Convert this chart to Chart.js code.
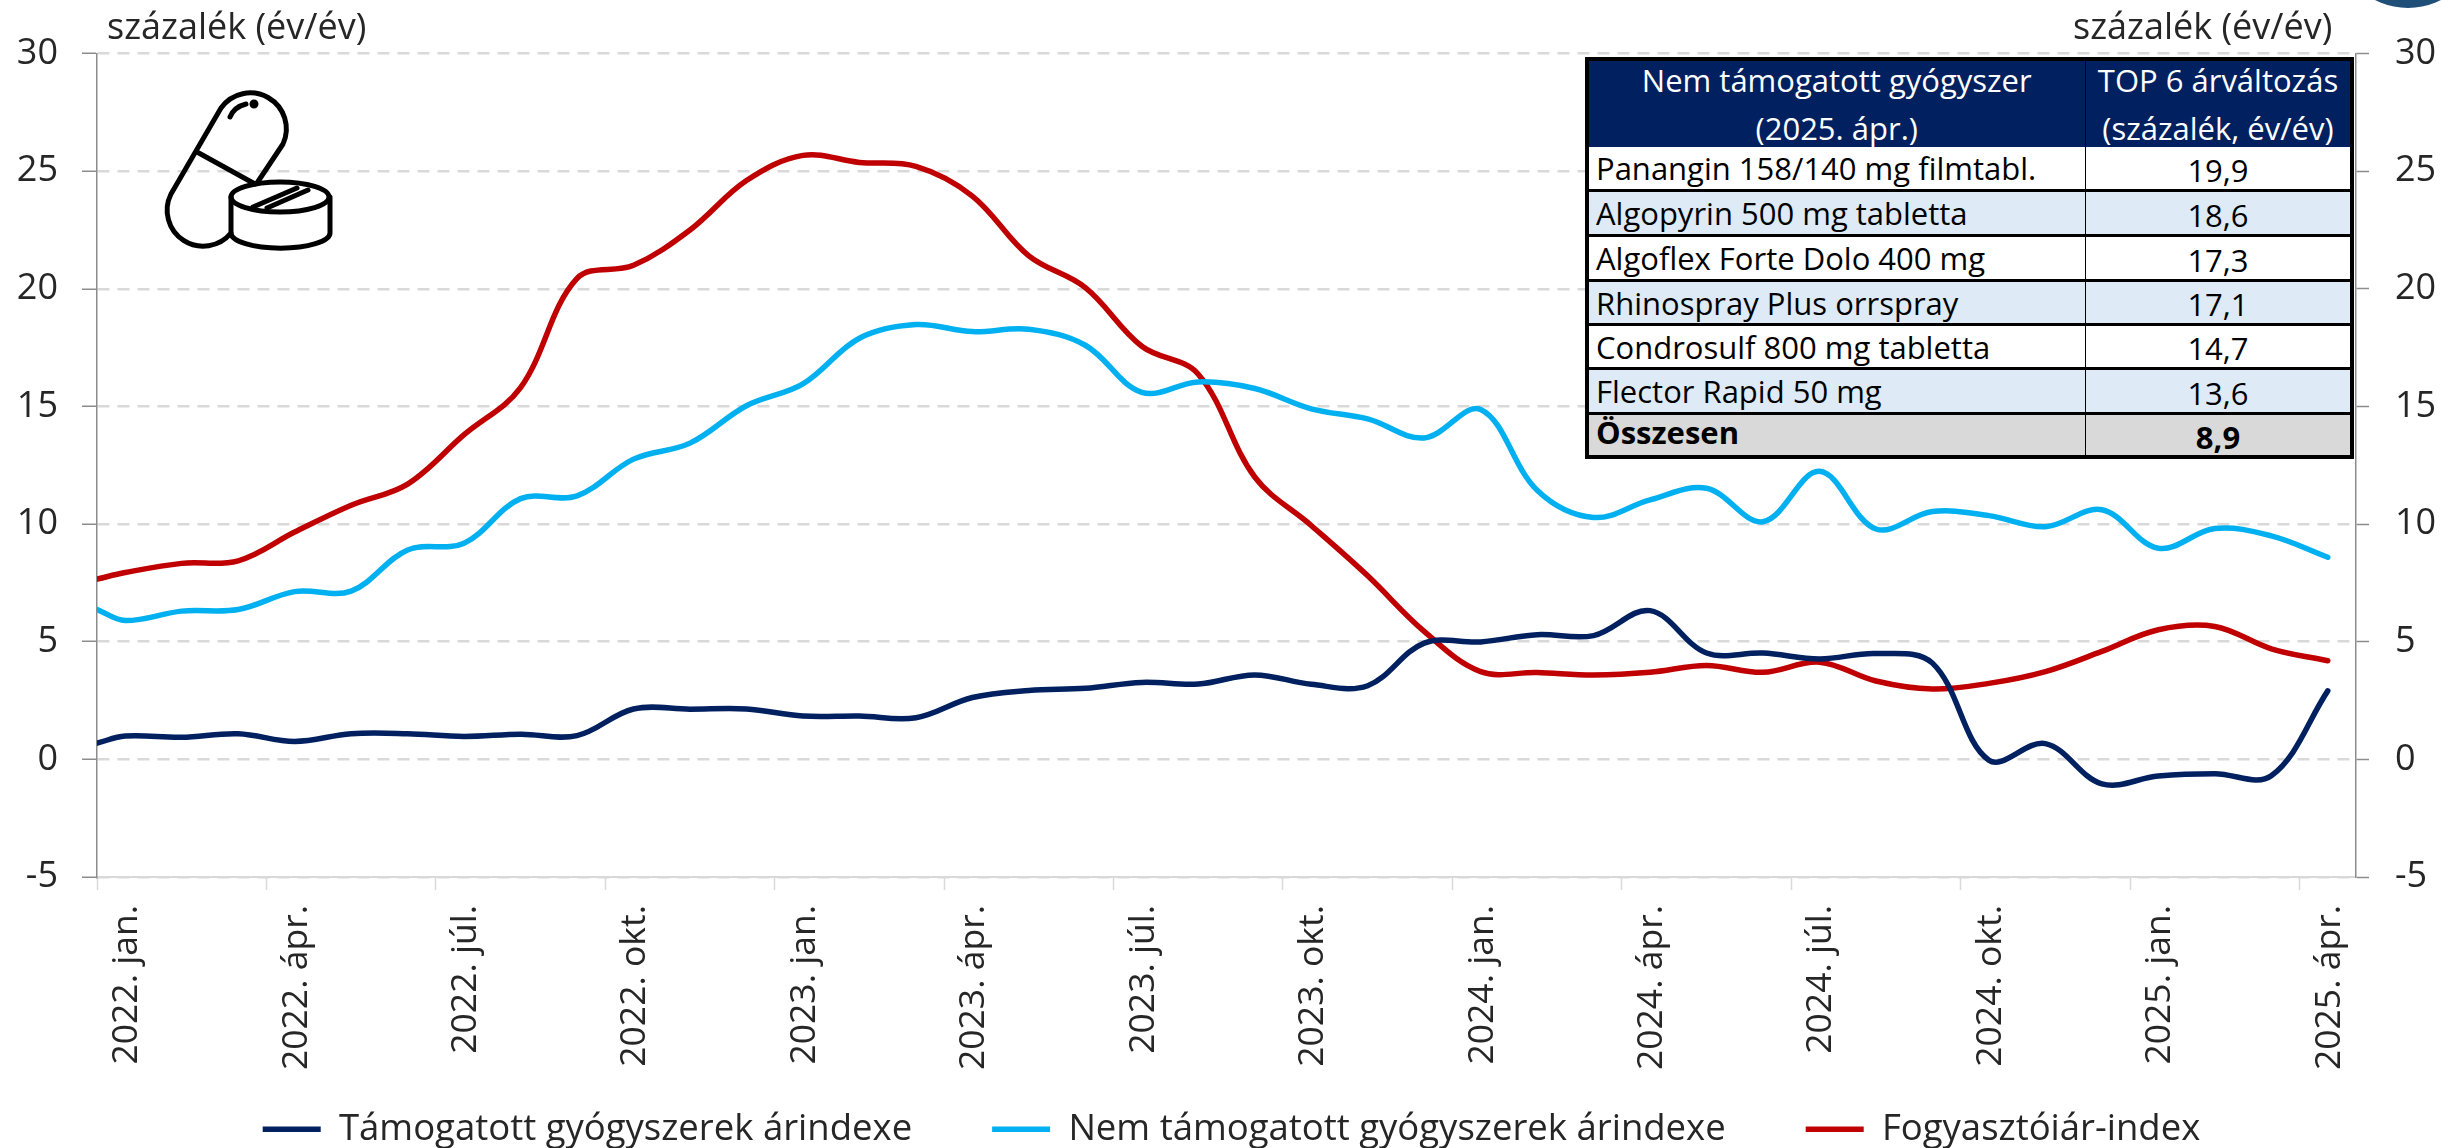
<!DOCTYPE html>
<html lang="hu">
<head>
<meta charset="utf-8">
<title>Gyógyszerek árindexe</title>
<script src="https://cdn.jsdelivr.net/npm/chart.js@4/dist/chart.umd.js"></script>
<style>
html,body{margin:0;padding:0;background:#fff;overflow:hidden}
#wrap{position:relative;width:2441px;height:1148px;font-family:"Open Sans",sans-serif;overflow:hidden}
canvas{position:absolute;left:0;top:0}
.unit{position:absolute;top:1px;font-size:36px;line-height:50px;color:#262626;white-space:nowrap}
#badge{position:absolute;left:2336px;top:-136px;width:144px;height:144px;border-radius:50%;background:#1f4e79}
#icon{position:absolute;left:0;top:0}
#table{position:absolute;left:1585px;top:57px;width:769px;height:402px;background:#000}
.cell{position:absolute;box-sizing:border-box;display:flex;align-items:center;font-size:31px;color:#000;white-space:nowrap;overflow:hidden}
.head{background:#002060;color:#fff;justify-content:center;text-align:center;line-height:48px}
.num{justify-content:center;padding-top:3px}
.name{padding-left:7px}
</style>
</head>
<body>
<div id="wrap">
<canvas id="chart" width="2441" height="1148"></canvas>
<div class="unit" style="left:107px">százalék (év/év)</div>
<div class="unit" style="left:2073px">százalék (év/év)</div>
<div id="badge"></div>
<svg id="icon" width="400" height="280" fill="none" stroke="#000" stroke-width="5" stroke-linecap="round" stroke-linejoin="round">
<path d="M257,183 L283,144 A36,36 0 0 0 221,108 L171,194 A36,36 0 0 0 231,233"/>
<path d="M197,152 L255,184"/>
<ellipse cx="280" cy="197" rx="49" ry="15"/>
<path d="M231,197 V233 A49,15 0 0 0 330,233 V197"/>
<path d="M253,207 L297,188 M267,208 L308,190"/>
<path d="M230,117 Q234,107 246,104"/>
<circle cx="254" cy="104" r="2" fill="#000"/>
</svg>
<div id="table"></div>
</div>
<script>
const tickLabels = ["2022. jan.","2022. ápr.","2022. júl.","2022. okt.","2023. jan.","2023. ápr.","2023. júl.","2023. okt.","2024. jan.","2024. ápr.","2024. júl.","2024. okt.","2025. jan.","2025. ápr."];
const yTicks = [-5,0,5,10,15,20,25,30];
const seriesNames = ["Támogatott gyógyszerek árindexe","Nem támogatott gyógyszerek árindexe","Fogyasztóiár-index"];
// first value: where the curve meets the left axis; then 2022 jan ... 2025 apr
const supported = [0.69,0.99,0.94,1.09,0.76,1.09,1.09,0.97,1.07,1.01,2.14,2.13,2.14,1.84,1.84,1.77,2.63,2.93,3.02,3.27,3.2,3.59,3.19,3.13,4.94,4.99,5.3,5.26,6.32,4.52,4.52,4.27,4.5,4.09,-0.04,0.67,-1.04,-0.71,-0.61,-0.7,2.91];
const unsupported = [6.37,5.9,6.3,6.37,7.13,7.15,8.9,9.19,11.08,11.2,12.76,13.44,15.03,15.96,17.9,18.48,18.18,18.28,17.6,15.6,16.04,15.76,14.9,14.47,13.66,14.87,11.44,10.28,11.03,11.52,10.1,12.24,9.79,10.53,10.36,9.89,10.61,8.97,9.81,9.5,8.59];
const cpi = [7.66,7.94,8.33,8.44,9.66,10.8,11.7,13.8,15.8,20.44,21.0,22.5,24.6,25.67,25.37,25.2,23.94,21.4,20.05,17.56,16.37,12.0,9.94,7.8,5.44,3.73,3.69,3.59,3.7,3.99,3.7,4.13,3.33,2.99,3.23,3.73,4.59,5.51,5.65,4.7,4.19];
const seriesColors = ["#002060","#00B0F0","#C00000"];
const tableHead = [["Nem támogatott gyógyszer","(2025. ápr.)"],["TOP 6 árváltozás","(százalék, év/év)"]];
const tableNames = ["Panangin 158/140 mg filmtabl.","Algopyrin 500 mg tabletta","Algoflex Forte Dolo 400 mg","Rhinospray Plus orrspray","Condrosulf 800 mg tabletta","Flector Rapid 50 mg"];
const tableValues = ["19,9","18,6","17,3","17,1","14,7","13,6"];
const tableTotal = ["Összesen","8,9"];

const toPoints = vals => vals.map((v,i)=>({x: i===0 ? -0.5 : i-1, y:v}));
const markPositions = tickLabels.map((_,i)=>i*3-0.5);

const yCommon = {min:-5,max:30,afterBuildTicks:s=>{s.ticks=yTicks.map(v=>({value:v}));}};

const layoutTweaks = {id:"layoutTweaks",afterLayout(chart){
  // rotated labels may run below the axis box, and the legend sits right of centre
  chart.scales.x.bottom = chart.scales.x.top + 215;
  chart.legend.left = 22;
}};

new Chart(document.getElementById("chart"),{
  type:"line",
  plugins:[layoutTweaks],
  data:{datasets:[supported,unsupported,cpi].map((vals,i)=>({
    label:seriesNames[i],data:toPoints(vals),borderColor:seriesColors[i],backgroundColor:seriesColors[i],
    borderWidth:5.5,tension:0.36,pointRadius:0,borderCapStyle:"round",borderJoinStyle:"round",yAxisID:"y",xAxisID:"x"
  }))},
  options:{
    responsive:false,animation:false,devicePixelRatio:1,
    layout:{autoPadding:false,padding:{top:53.5,bottom:-9.5,left:0,right:0}},
    plugins:{
      tooltip:{enabled:false},
      legend:{position:"bottom",labels:{usePointStyle:true,pointStyle:"line",pointStyleWidth:58,padding:80,color:"#262626",
        font:{family:"Open Sans",size:36.5}}}
    },
    scales:{
      x:{type:"linear",min:-0.5,max:39.5,position:"bottom",
        afterBuildTicks:s=>{s.ticks=markPositions.map(v=>({value:v}));},
        afterFit:s=>{s.height=154;},
        grid:{drawOnChartArea:false,drawTicks:true,tickLength:13,tickColor:"#d9d9d9",tickWidth:1.5},
        border:{color:"#d9d9d9",width:2},
        ticks:{autoSkip:false,maxRotation:90,minRotation:90,labelOffset:30,padding:15,color:"#262626",
          font:{family:"Open Sans",size:35.5},callback:(v,i)=>tickLabels[i]}
      },
      y:{...yCommon,position:"left",
        afterFit:s=>{s.width=97;},
        border:{color:"#8c8c8c",width:1.5,dash:[12,8]},
        grid:{color:"#d9d9d9",lineWidth:2.5,tickColor:"#8c8c8c",tickWidth:1.5,tickLength:15,tickBorderDash:[]},
        ticks:{padding:24,color:"#262626",font:{family:"Open Sans",size:36}}
      },
      y2:{...yCommon,position:"right",
        afterFit:s=>{s.width=85;},
        border:{color:"#8c8c8c",width:1.5},
        grid:{drawOnChartArea:false,tickColor:"#8c8c8c",tickWidth:1.5,tickLength:13},
        ticks:{padding:26,color:"#262626",font:{family:"Open Sans",size:36}}
      }
    }
  }
});

// table
const table=document.getElementById("table");
const colX=[4,501,765]; const rowY=[90,135,180,225,269,313,358,398];
function cell(cls,x,y,w,h,html,extra){const d=document.createElement("div");d.className="cell "+cls;
  d.style.cssText=`left:${x}px;top:${y}px;width:${w}px;height:${h}px;${extra||""}`;d.innerHTML=html;table.appendChild(d);}
tableHead.forEach((lines,c)=>{cell("head",colX[c],4,colX[c+1]-colX[c]-(c?0:1.5),86,lines.join("<br>"));});
const bgs=["#fff","#deeaf6"];
tableNames.forEach((n,r)=>{
  const y=rowY[r], h=rowY[r+1]-y-3, bg=bgs[r%2];
  cell("name",colX[0],y,colX[1]-colX[0]-1.5,h,n,`background:${bg}`);
  cell("num",colX[1],y,colX[2]-colX[1],h,tableValues[r],`background:${bg}`);
});
{const y=rowY[6],h=rowY[7]-y;
 cell("name",colX[0],y,colX[1]-colX[0]-1.5,h,tableTotal[0],"background:#d9d9d9;font-weight:700;padding-bottom:6px");
 cell("num",colX[1],y,colX[2]-colX[1],h,tableTotal[1],"background:#d9d9d9;font-weight:700");}
</script>
</body>
</html>
